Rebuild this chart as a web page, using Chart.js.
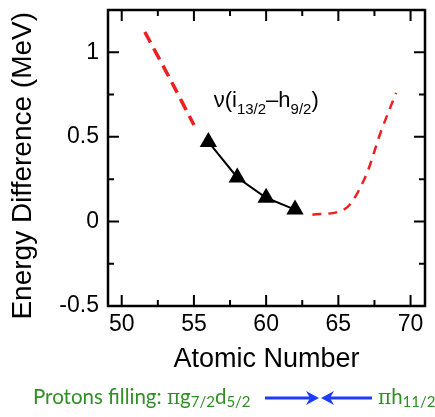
<!DOCTYPE html>
<html>
<head>
<meta charset="utf-8">
<script src="https://cdn.jsdelivr.net/npm/chart.js@4.4.1/dist/chart.umd.min.js"></script>
<style>
  html, body { margin:0; padding:0; background:#fff; }
  #wrap { position:relative; width:435px; height:417px; }
  #c { position:absolute; left:0; top:0; }
  .cap { position:absolute; font-family: Lato, "Open Sans", sans-serif; font-size:20.5px; color:#2f8f25; white-space:nowrap; line-height:20px; }
  .cap .pi { font-family: "DejaVu Serif", serif; font-size:20px; }
  .cap sub { font-size:15px; position:relative; top:3px; vertical-align:baseline; line-height:0; }
</style>
</head>
<body>
<div id="wrap">
  <canvas id="c" width="435" height="417"></canvas>
  <div class="cap" id="capL" style="left:33px; top:386px;">Protons filling: <span class="pi">π</span>g<sub>7/2</sub>d<sub>5/2</sub></div>
  <svg style="position:absolute; left:262px; top:388px;" width="116" height="20" viewBox="0 0 116 20">
    <line x1="3" y1="10" x2="52" y2="10" stroke="#1e3cff" stroke-width="3"/>
    <path d="M57,10 L44,3 L48,10 L44,17 Z" fill="#1e3cff"/>
    <line x1="64" y1="10" x2="110" y2="10" stroke="#1e3cff" stroke-width="3"/>
    <path d="M59,10 L72,3 L68,10 L72,17 Z" fill="#1e3cff"/>
  </svg>
  <div class="cap" id="capR" style="left:378px; top:386px;"><span class="pi">π</span>h<sub>11/2</sub></div>
</div>
<script>
// ---- data ----
const zNuclei = [56, 58, 60, 62];
const energyDiff = [0.47, 0.26, 0.14, 0.07];

const fitLeftZ = [51.6, 53.3, 55.0];
const fitLeftE = [1.12, 0.85, 0.57];

const fitRightZ = [63.2, 65.1, 65.8, 67.0, 67.9, 69.0];
const fitRightE = [0.04, 0.06, 0.10, 0.29, 0.52, 0.76];

const xMajorTicks = [50, 55, 60, 65, 70];
const xMinorTicks = [52.5, 57.5, 62.5, 67.5];
const yMajorTicks = [-0.5, 0, 0.5, 1];
const yMinorTicks = [-0.25, 0.25, 0.75];

const annotZ = 56.37;
const annotE = 0.676;

function pts(xs, ys) { return xs.map((x, i) => ({x: x, y: ys[i]})); }

const frameTicks = {
  id: 'frameTicks',
  afterDraw(chart) {
    const {ctx, chartArea: a, scales: {x, y}} = chart;
    ctx.save();
    ctx.strokeStyle = '#000';
    ctx.lineWidth = 2;
    const major = 11, minor = 6;
    ctx.beginPath();
    xMajorTicks.forEach(v => { const p = x.getPixelForValue(v);
      ctx.moveTo(p, a.bottom); ctx.lineTo(p, a.bottom - major);
      ctx.moveTo(p, a.top); ctx.lineTo(p, a.top + major); });
    xMinorTicks.forEach(v => { const p = x.getPixelForValue(v);
      ctx.moveTo(p, a.bottom); ctx.lineTo(p, a.bottom - minor);
      ctx.moveTo(p, a.top); ctx.lineTo(p, a.top + minor); });
    yMajorTicks.forEach(v => { const p = y.getPixelForValue(v);
      ctx.moveTo(a.left, p); ctx.lineTo(a.left + major, p);
      ctx.moveTo(a.right, p); ctx.lineTo(a.right - major, p); });
    yMinorTicks.forEach(v => { const p = y.getPixelForValue(v);
      ctx.moveTo(a.left, p); ctx.lineTo(a.left + minor, p);
      ctx.moveTo(a.right, p); ctx.lineTo(a.right - minor, p); });
    ctx.stroke();
    ctx.lineWidth = 2.5;
    ctx.strokeRect(a.left, a.top, a.right - a.left, a.bottom - a.top);

    // annotation label
    let px = x.getPixelForValue(annotZ);
    const py = y.getPixelForValue(annotE);
    ctx.fillStyle = '#000';
    ctx.textBaseline = 'alphabetic';
    const big = '22px "Liberation Sans", Arial, sans-serif';
    const small = '15px "Liberation Sans", Arial, sans-serif';
    const parts = [['ν(i', big, 0], ['13/2', small, 7], ['–h', big, 0], ['9/2', small, 7], [')', big, 0]];
    parts.forEach(([t, f, dy]) => {
      ctx.font = f;
      ctx.fillText(t, px, py + dy);
      px += ctx.measureText(t).width;
    });
    ctx.restore();
  }
};

const noPad = s => { s.paddingTop = 0; s.paddingBottom = 0; s.paddingLeft = 0; s.paddingRight = 0; };

new Chart(document.getElementById('c'), {
  type: 'scatter',
  data: {
    datasets: [
      { data: pts(fitLeftZ, fitLeftE), showLine: true, borderColor: 'rgb(240,30,30)', borderWidth: 3.5,
        borderDash: [12, 7], pointRadius: 0, tension: 0.2 },
      { data: pts(fitRightZ, fitRightE), showLine: true, borderColor: 'rgb(240,30,30)', borderWidth: 2.5,
        borderDash: [9, 7], pointRadius: 0, cubicInterpolationMode: 'monotone' },
      { data: pts(zNuclei, energyDiff), showLine: true, borderColor: '#000', borderWidth: 2,
        pointStyle: 'triangle', pointRadius: 10, pointBackgroundColor: '#000', pointBorderColor: '#000',
        pointBorderWidth: 0, tension: 0 }
    ]
  },
  options: {
    responsive: false,
    animation: false,
    events: [],
    layout: { padding: { top: 8, right: 8, left: 0, bottom: 0 } },
    plugins: { legend: { display: false }, tooltip: { enabled: false } },
    scales: {
      x: {
        type: 'linear', min: 49.05, max: 71,
        afterBuildTicks: s => { s.ticks = xMajorTicks.map(v => ({value: v})); },
        afterFit: s => { s.height = 111; noPad(s); },
        grid: { display: false, drawTicks: false },
        border: { display: false },
        ticks: { color: '#000', font: { family: '"Liberation Sans", Arial, sans-serif', size: 23 }, padding: 5,
          maxRotation: 0, autoSkip: false },
        title: { display: true, text: 'Atomic Number', color: '#000',
          font: { family: '"Liberation Sans", Arial, sans-serif', size: 27 }, padding: { top: 0, bottom: 41 } }
      },
      y: {
        type: 'linear', min: -0.5, max: 1.25,
        afterBuildTicks: s => { s.ticks = yMajorTicks.map(v => ({value: v})); },
        afterFit: s => { s.width = 108; noPad(s); },
        grid: { display: false, drawTicks: false },
        border: { display: false },
        ticks: { color: '#000', font: { family: '"Liberation Sans", Arial, sans-serif', size: 23 }, padding: 9,
          callback: v => String(v) },
        title: { display: true, text: 'Energy Difference (MeV)  ', color: '#000',
          font: { family: '"Liberation Sans", Arial, sans-serif', size: 28 }, padding: { top: 6, bottom: 0 } }
      }
    }
  },
  plugins: [frameTicks]
});
</script>
</body>
</html>
